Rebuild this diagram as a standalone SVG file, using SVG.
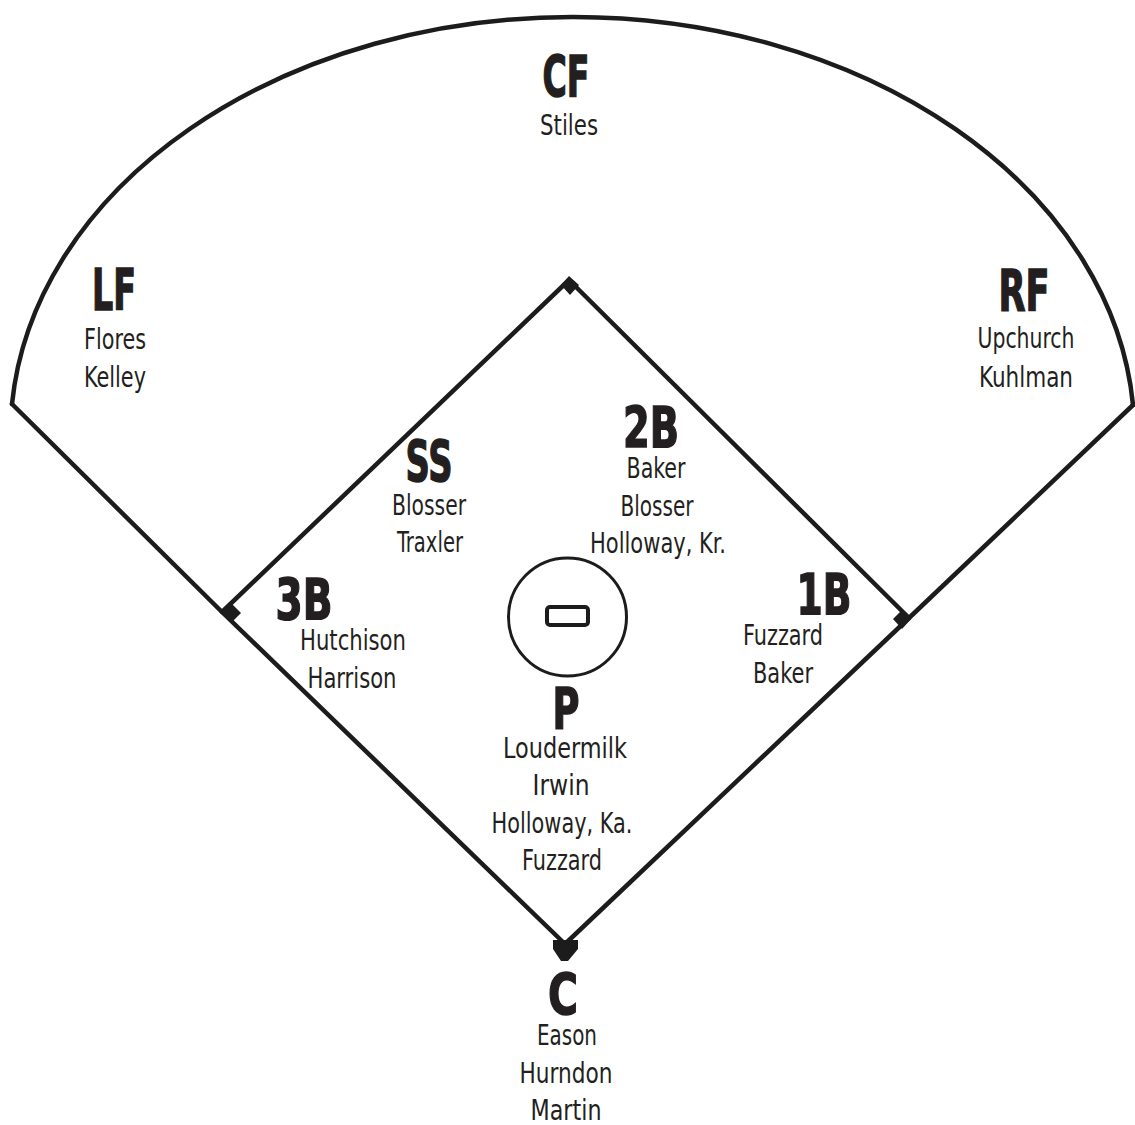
<svg xmlns="http://www.w3.org/2000/svg" width="1135" height="1125" viewBox="0 0 1135 1125">
<style>
.ln{fill:none;stroke:#1c1c1c;stroke-width:4.5;stroke-linejoin:round;stroke-linecap:round}
.blob{fill:#1c1c1c}
.pos{font-family:"Liberation Sans Narrow","DejaVu Sans Condensed","Liberation Sans",sans-serif;font-weight:bold;font-size:57px;fill:#231f20;stroke:#231f20;stroke-width:1.4;text-anchor:middle}
.nm{font-family:"Liberation Sans Narrow","DejaVu Sans Condensed","Liberation Sans",sans-serif;font-size:29px;fill:#231f20;text-anchor:middle}
</style>
<rect width="1135" height="1125" fill="#ffffff"/>
<g id="connectors">
<path class="ln" d="M12,404 A562,418 0 0 1 1133,405"/>
<path class="ln" d="M12,404 L222,612 L565,944 L909,618 L1133,405"/>
<path class="ln" d="M222,612 L569,280 L909,618"/>
<circle cx="567.5" cy="617" r="59" fill="none" stroke="#1c1c1c" stroke-width="3"/>
<rect x="547" y="607" width="41" height="18" rx="3" fill="none" stroke="#1c1c1c" stroke-width="4"/>
<polygon class="blob" points="569,276 579,285 570,295 561,285"/>
<polygon class="blob" points="232,604 241,613 232,622 223,613"/>
<polygon class="blob" points="902,610 911,619 902,629 893,619"/>
<polygon class="blob" points="553,940 578,940 578,949 568,961 561,961 553,949"/>
</g>
<g id="cf"><text class="pos" x="566" y="97" textLength="47" lengthAdjust="spacingAndGlyphs">CF</text><text class="nm" x="569" y="135" textLength="58" lengthAdjust="spacingAndGlyphs">Stiles</text></g>
<g id="lf"><text class="pos" x="114" y="310" textLength="44" lengthAdjust="spacingAndGlyphs">LF</text><text class="nm" x="115" y="349" textLength="62" lengthAdjust="spacingAndGlyphs">Flores</text><text class="nm" x="115" y="387" textLength="62" lengthAdjust="spacingAndGlyphs">Kelley</text></g>
<g id="rf"><text class="pos" x="1024" y="311" textLength="51" lengthAdjust="spacingAndGlyphs">RF</text><text class="nm" x="1026" y="348" textLength="97" lengthAdjust="spacingAndGlyphs">Upchurch</text><text class="nm" x="1026" y="387" textLength="94" lengthAdjust="spacingAndGlyphs">Kuhlman</text></g>
<g id="ss"><text class="pos" x="429" y="482" textLength="47" lengthAdjust="spacingAndGlyphs">SS</text><text class="nm" x="429" y="515" textLength="74" lengthAdjust="spacingAndGlyphs">Blosser</text><text class="nm" x="430" y="552" textLength="66" lengthAdjust="spacingAndGlyphs">Traxler</text></g>
<g id="2b"><text class="pos" x="651" y="448" textLength="56" lengthAdjust="spacingAndGlyphs">2B</text><text class="nm" x="656" y="478" textLength="59" lengthAdjust="spacingAndGlyphs">Baker</text><text class="nm" x="657" y="516" textLength="73" lengthAdjust="spacingAndGlyphs">Blosser</text><text class="nm" x="658" y="553" textLength="136" lengthAdjust="spacingAndGlyphs">Holloway, Kr.</text></g>
<g id="3b"><text class="pos" x="304" y="620" textLength="57" lengthAdjust="spacingAndGlyphs">3B</text><text class="nm" x="353" y="650" textLength="106" lengthAdjust="spacingAndGlyphs">Hutchison</text><text class="nm" x="352" y="688" textLength="89" lengthAdjust="spacingAndGlyphs">Harrison</text></g>
<g id="1b"><text class="pos" x="824" y="615" textLength="55" lengthAdjust="spacingAndGlyphs">1B</text><text class="nm" x="783" y="645" textLength="80" lengthAdjust="spacingAndGlyphs">Fuzzard</text><text class="nm" x="783" y="683" textLength="60" lengthAdjust="spacingAndGlyphs">Baker</text></g>
<g id="p"><text class="pos" x="566" y="729" textLength="27" lengthAdjust="spacingAndGlyphs">P</text><text class="nm" x="565" y="758" textLength="124" lengthAdjust="spacingAndGlyphs">Loudermilk</text><text class="nm" x="561" y="795" textLength="57" lengthAdjust="spacingAndGlyphs">Irwin</text><text class="nm" x="562" y="833" textLength="141" lengthAdjust="spacingAndGlyphs">Holloway, Ka.</text><text class="nm" x="562" y="870" textLength="80" lengthAdjust="spacingAndGlyphs">Fuzzard</text></g>
<g id="c"><text class="pos" x="563" y="1015" textLength="30" lengthAdjust="spacingAndGlyphs">C</text><text class="nm" x="567" y="1045" textLength="60" lengthAdjust="spacingAndGlyphs">Eason</text><text class="nm" x="566" y="1083" textLength="93" lengthAdjust="spacingAndGlyphs">Hurndon</text><text class="nm" x="566" y="1120" textLength="71" lengthAdjust="spacingAndGlyphs">Martin</text></g>
</svg>
